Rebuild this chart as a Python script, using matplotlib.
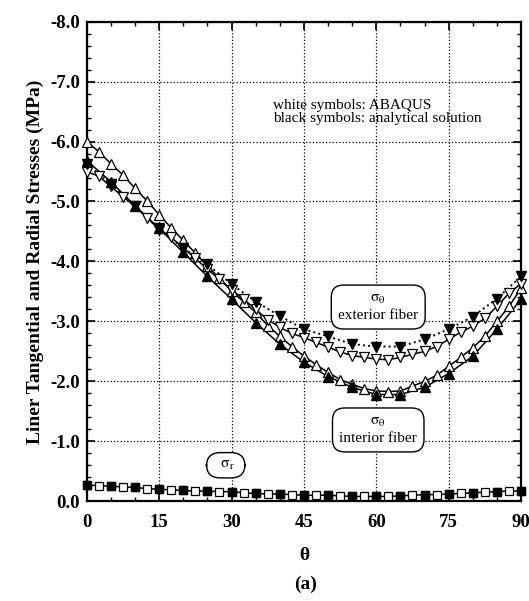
import matplotlib
matplotlib.use("Agg")
import matplotlib.pyplot as plt
from matplotlib.ticker import MultipleLocator

plt.rcParams['font.family'] = ['Liberation Serif', 'DejaVu Serif']
plt.rcParams['mathtext.fontset'] = 'stix'

# angles
theta_fe = [i * 2.5 for i in range(37)]   # ABAQUS points
theta_an = [i * 5 for i in range(19)]     # analytical points

# sigma_theta, interior fiber
int_abaqus = [-6.0, -5.83, -5.63, -5.44, -5.22, -5.01, -4.78, -4.56, -4.35, -4.14,
              -3.92, -3.72, -3.5, -3.33, -3.15, -2.93, -2.75, -2.58, -2.42, -2.28,
              -2.15, -2.03, -1.95, -1.88, -1.84, -1.83, -1.84, -1.92, -2.0, -2.1,
              -2.25, -2.4, -2.56, -2.75, -3.0, -3.25, -3.55]
int_analyt = [-5.68, -5.33, -4.93, -4.55, -4.15, -3.75, -3.37, -2.98, -2.62, -2.32,
              -2.08, -1.9, -1.78, -1.78, -1.9, -2.13, -2.42, -2.87, -3.37]

# sigma_theta, exterior fiber
ext_abaqus = [-5.5, -5.42, -5.25, -5.08, -4.92, -4.73, -4.53, -4.4, -4.23, -4.05,
              -3.87, -3.7, -3.53, -3.37, -3.2, -3.03, -2.9, -2.8, -2.73, -2.65,
              -2.57, -2.49, -2.43, -2.4, -2.37, -2.36, -2.4, -2.45, -2.5, -2.58,
              -2.7, -2.82, -2.92, -3.05, -3.25, -3.47, -3.63]
ext_analyt = [-5.62, -5.3, -4.92, -4.55, -4.22, -3.95, -3.62, -3.33, -3.09, -2.87,
              -2.75, -2.62, -2.58, -2.58, -2.7, -2.87, -3.08, -3.38, -3.75]

# sigma_r
rad_abaqus = [-0.27, -0.26, -0.25, -0.24, -0.23, -0.21, -0.2, -0.19, -0.18, -0.17,
              -0.17, -0.16, -0.16, -0.14, -0.13, -0.12, -0.12, -0.11, -0.1, -0.1,
              -0.1, -0.09, -0.08, -0.08, -0.08, -0.08, -0.09, -0.1, -0.11, -0.11,
              -0.12, -0.13, -0.14, -0.15, -0.16, -0.17, -0.17]
rad_analyt = [-0.27, -0.25, -0.23, -0.2, -0.18, -0.17, -0.16, -0.13, -0.12, -0.1,
              -0.1, -0.08, -0.08, -0.09, -0.11, -0.12, -0.14, -0.16, -0.17]

fig = plt.figure(figsize=(5.29, 6.01), dpi=100)
ax = fig.add_axes([0.164, 0.166, 0.821, 0.798])

lw = 1.1
# lines
ax.plot(theta_fe, int_abaqus, '-', color='black', lw=lw, zorder=2)
ax.plot(theta_an, int_analyt, '-', color='black', lw=lw, zorder=2)
ax.plot(theta_fe, ext_abaqus, '-', color='black', lw=lw, zorder=2)
ax.plot(theta_an, ext_analyt, ':', color='black', lw=1.4, zorder=2)
ax.plot(theta_fe, rad_abaqus, '-', color='black', lw=lw, zorder=2)

# markers
mk = dict(ls='none', clip_on=False)
ax.plot(theta_fe, int_abaqus, '^', ms=7, mfc='white', mec='black', mew=0.9, zorder=3, **mk)
ax.plot(theta_fe, ext_abaqus, 'v', ms=7, mfc='white', mec='black', mew=0.9, zorder=3, **mk)
ax.plot(theta_an, int_analyt, '^', ms=7, mfc='black', mec='black', zorder=4, **mk)
ax.plot(theta_an, ext_analyt, 'v', ms=7, mfc='black', mec='black', zorder=4, **mk)
ax.plot(theta_fe, rad_abaqus, 's', ms=5.5, mfc='white', mec='black', mew=0.9, zorder=3, **mk)
ax.plot(theta_an, rad_analyt, 's', ms=5.5, mfc='black', mec='black', zorder=4, **mk)

ax.set_xlim(0, 90)
ax.set_ylim(0, -8)
ax.xaxis.set_major_locator(MultipleLocator(15))
ax.xaxis.set_minor_locator(MultipleLocator(5))
ax.yaxis.set_minor_locator(MultipleLocator(0.2))
ax.set_yticks([0, -1, -2, -3, -4, -5, -6, -7, -8])
ax.set_yticklabels(['0.0', '-1.0', '-2.0', '-3.0', '-4.0', '-5.0', '-6.0', '-7.0', '-8.0'])
ax.tick_params(which='both', direction='in', top=True, right=True)
ax.tick_params(which='major', length=6, width=1.2, labelsize=13.5, pad=5)
ax.tick_params(axis='x', which='major', pad=9)
ax.tick_params(which='minor', length=3, width=1)
for lab in ax.get_xticklabels() + ax.get_yticklabels():
    lab.set_fontweight('bold')
for s in ax.spines.values():
    s.set_linewidth(1.6)
ax.grid(True, which='major', ls=':', color='black', lw=0.9)
ax.set_axisbelow(True)

ax.set_ylabel('Liner Tangential and Radial Stresses (MPa)', fontsize=14, fontweight='bold', labelpad=4)
ax.set_xlabel('θ', fontsize=14, fontweight='bold', labelpad=12)
fig.text(0.577, 0.027, '(a)', ha='center', va='center', fontsize=14, fontweight='bold')

ax.text(38.5, -6.49, 'white symbols: ABAQUS\nblack symbols: analytical solution',
        fontsize=11, va='center', ha='left', linespacing=1.05)

box = dict(boxstyle='round,pad=0.45,rounding_size=0.8', fc='white', ec='black', lw=1)
ax.text(60.4, -3.23, '$\\mathrm{σ}_{\\mathrm{θ}}$\nexterior fiber', fontsize=11, ha='center',
        va='center', bbox=box, zorder=5, linespacing=1.3)
ax.text(60.4, -1.18, '$\\mathrm{σ}_{\\mathrm{θ}}$\ninterior fiber', fontsize=11, ha='center',
        va='center', bbox=box, zorder=5, linespacing=1.3)
ax.text(28.8, -0.6, '  $\\mathrm{σ}_{\\mathrm{r}}$  ', fontsize=11, ha='center', va='center',
        bbox=dict(boxstyle='round,pad=0.4,rounding_size=0.9', fc='white', ec='black', lw=1),
        zorder=5)

fig.savefig('out.png', dpi=100)
